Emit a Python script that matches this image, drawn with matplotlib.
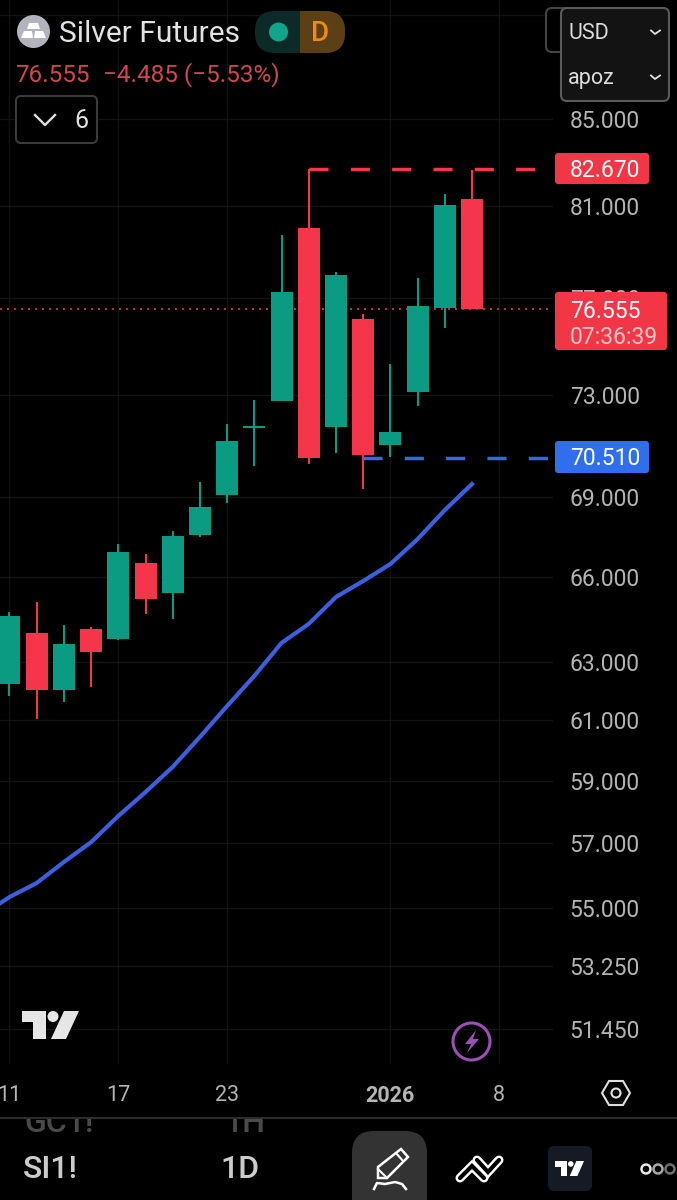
import numpy as np
import matplotlib
matplotlib.use('Agg')
import matplotlib.pyplot as plt
from matplotlib.patches import FancyBboxPatch, Circle, Polygon, Rectangle
from matplotlib.ticker import NullLocator

plt.rcParams['font.family'] = ['Roboto', 'DejaVu Sans']

# daily candles, oldest first
opens = [62.24, 64.01, 62.03, 64.15, 63.80, 66.54, 65.43, 67.57, 69.08, 71.70, 72.75, 80.05, 71.70, 76.12, 71.02, 73.10, 76.58, 81.34]
closes = [64.61, 62.02, 63.61, 63.34, 66.93, 65.22, 67.51, 68.60, 71.16, 71.70, 77.25, 70.48, 77.98, 70.61, 71.53, 76.68, 81.07, 76.555]
highs = [64.75, 65.11, 64.28, 64.23, 67.22, 66.87, 67.71, 69.56, 71.83, 72.79, 79.74, 82.67, 78.11, 76.33, 74.25, 77.86, 81.54, 82.64]
lows = [61.82, 61.05, 61.62, 62.14, 63.75, 64.69, 64.49, 67.50, 68.78, 70.20, 72.75, 70.27, 70.70, 69.30, 70.55, 72.54, 75.75, 76.555]
is_up = [True, False, True, False, True, False, True, True, True, True, True, False, True, False, True, True, True, False]

# moving average, starts one bar before the first visible candle
ma_index = list(range(-1, 18))
ma_values = [54.78, 55.33, 55.76, 56.41, 57.03, 57.86, 58.63, 59.45, 60.44, 61.48, 62.51, 63.66, 64.33, 65.29, 65.87, 66.49, 67.41, 68.50, 69.49]

price_ticks = [85, 81, 77, 73, 69, 66, 63, 61, 59, 57, 55, 53.25, 51.45]
grid_only_ticks = [90]
date_pos = [0, 4, 8, 14, 18]
date_labels = ['11', '17', '23', '2026', '8']

last_price = 76.555
high_price = 82.67
low_price = 70.51

GREEN = '#0a9b82'
RED = '#f4354a'
BLUE = '#3a5fe0'
GRID = '#121212'
LABEL = '#b4b4b4'

W, H = 677, 1200
fig = plt.figure(figsize=(W / 100, H / 100), dpi=100, facecolor='black')

# chart pane, 0-553 px wide and 0-1064 px high
ax = fig.add_axes([0, 1 - 1064 / H, 553 / W, 1064 / H], facecolor='black')
ax.set_yscale('log')
ax.set_xlim(-0.349, 19.98)
ax.set_ylim(50.46, 90.77)
for s in ax.spines.values():
    s.set_visible(False)

ax.yaxis.tick_right()
ax.yaxis.set_minor_locator(NullLocator())
ax.set_yticks(price_ticks + grid_only_ticks)
ax.set_yticklabels(['%.3f' % p for p in price_ticks] + [''])
ax.tick_params(axis='y', length=0, pad=12, labelsize=16.5, labelcolor=LABEL)
for lab in ax.get_yticklabels():
    lab.set_ha('left')
ax.set_xticks(date_pos)
ax.set_xticklabels(date_labels)
ax.tick_params(axis='x', length=0, pad=15, labelsize=15.5, labelcolor=LABEL)
ax.get_xticklabels()[3].set_fontweight('bold')
ax.grid(True, color=GRID, lw=1)
ax.set_axisbelow(True)

ax.axhline(last_price, color=RED, lw=1.4, ls=(0, (1, 2.6)), alpha=0.85, zorder=1)

x = np.arange(len(opens))
colors = [GREEN if u else RED for u in is_up]
ax.vlines(x, lows, highs, colors=colors, lw=1.5, zorder=2)
bottoms = [min(o, c) for o, c in zip(opens, closes)]
tops = [max(o, c) for o, c in zip(opens, closes)]
heights = [t - b for t, b in zip(tops, bottoms)]
ax.bar(x, heights, bottom=bottoms, width=22 / 27.2, color=colors, zorder=3, linewidth=0)
# doji has no body height, just the cross bar
ax.hlines(opens[9], 9 - 11 / 27.2, 9 + 11 / 27.2, colors=GREEN, lw=1.5, zorder=3)

ax.plot(ma_index, ma_values, color=BLUE, lw=3, zorder=4, solid_joinstyle='round')

ax.plot([11, 19.3], [high_price, high_price], color=RED, lw=2.5, ls=(0, (5.5, 6.4)), zorder=4, dash_capstyle='butt')
ax.plot([13, 19.8], [low_price, low_price], color='#3567e8', lw=2.5, ls=(0, (5.5, 6.4)), zorder=5, dash_capstyle='butt')

# overlay in screen pixels for the app chrome
ui = fig.add_axes([0, 0, 1, 1], facecolor='none')
ui.set_xlim(0, W)
ui.set_ylim(H, 0)
ui.axis('off')


def box(x0, y0, x1, y1, fc, ec='none', lw=0, r=5, z=5):
    p = FancyBboxPatch((x0 + r, y0 + r), x1 - x0 - 2 * r, y1 - y0 - 2 * r, boxstyle='round,pad=%g,rounding_size=%g' % (r, r),
                       fc=fc, ec=ec, lw=lw, zorder=z)
    ui.add_patch(p)
    return p


def tv_logo(x0, y0, w, h, color):
    sx, sy = w / 57.0, h / 28.0
    pts = [(0, 0), (24, 0), (24, 28), (11, 28), (11, 11), (0, 11)]
    ui.add_patch(Polygon([(x0 + a * sx, y0 + b * sy) for a, b in pts], fc=color, ec='none', zorder=6))
    pts = [(42, 0), (57, 0), (44, 28), (29, 28)]
    ui.add_patch(Polygon([(x0 + a * sx, y0 + b * sy) for a, b in pts], fc=color, ec='none', zorder=6))
    ui.add_patch(Circle((x0 + 31 * sx, y0 + 5.5 * sy), 5.5 * sx, fc=color, ec='none', zorder=6))


# header
ui.add_patch(Circle((33.5, 31.5), 16.5, fc='#b3b3c0', ec='none', zorder=5))
ui.add_patch(Polygon([(29, 23), (38, 23), (40, 29), (27, 29)], fc='white', ec='none', zorder=6))
ui.add_patch(Polygon([(24, 31), (32, 31), (33, 38), (21, 38)], fc='white', ec='none', zorder=6))
ui.add_patch(Polygon([(35, 31), (43, 31), (46, 38), (34, 38)], fc='white', ec='none', zorder=6))
ui.text(59, 33.5, 'Silver Futures', color='#e2e2e2', fontsize=21.5, va='center', ha='left', zorder=6)
box(255, 11, 345, 53, '#0c2a27', r=20)
clip_r = Rectangle((300, 0), 60, 70, transform=ui.transData)
orange = box(255, 11, 345, 53, '#5c3f14', r=20, z=5.5)
orange.set_clip_path(clip_r)
ui.add_patch(Circle((278.5, 32), 9.5, fc='#12a58c', ec='none', zorder=6))
ui.text(320, 33.5, 'D', color='#f08a12', fontsize=20, fontweight='medium', va='center', ha='center', zorder=6)
ui.text(15, 75, '76.555', color='#d4464f', fontsize=17.5, va='center', ha='left', zorder=6)
ui.text(103, 75, '\u22124.485 (\u22125.53%)', color='#d4464f', fontsize=17.5, va='center', ha='left', zorder=6)

box(16, 96, 97, 143, 'black', ec='#3a3a3a', lw=1.5, r=5)
ui.plot([35, 45, 55], [115, 125, 115], color='#e0e0e0', lw=1.7, zorder=6)
ui.text(81, 120.5, '6', color='#e0e0e0', fontsize=18, va='center', ha='center', zorder=6)

# currency / unit box, with the edge of another box peeking out behind it
box(546, 8, 600, 52, 'black', ec='#444444', lw=1.5, r=6, z=4)
box(561, 8, 669, 101, '#131313', ec='#5a5a5a', lw=1.5, r=6)
ui.text(568, 33.5, 'USD', color='#dcdcdc', fontsize=15.5, va='center', ha='left', zorder=6)
ui.text(568, 78.5, 'apoz', color='#dcdcdc', fontsize=15.5, va='center', ha='left', zorder=6)
for cy in [32, 77]:
    ui.plot([651, 655, 660], [cy - 1.5, cy + 2, cy - 1.5], color='#e0e0e0', lw=1.3, zorder=6)

# price tags
box(555, 153, 649, 184, '#f23645', r=3)
ui.text(570, 170.5, '%.3f' % high_price, color='white', fontsize=16.5, va='center', ha='left', zorder=6)
box(555, 292, 667, 350, '#f23645', r=3)
ui.text(570, 311, '%.3f' % last_price, color='white', fontsize=16.5, va='center', ha='left', zorder=6)
ui.text(570, 337, '07:36:39', color='#fbc9cd', fontsize=16.5, va='center', ha='left', zorder=6)
box(555, 441, 649, 473, '#2f6fed', r=3)
ui.text(570, 458.5, '%.3f' % low_price, color='white', fontsize=16.5, va='center', ha='left', zorder=6)

tv_logo(22, 1011, 57, 28, '#e6e6e6')

# alert button
ui.add_patch(Circle((471.5, 1041.5), 18.5, fc='none', ec='#9a50b4', lw=2.2, zorder=6))
ui.add_patch(Polygon([(476, 1030), (465, 1044), (471, 1044), (467, 1053), (479, 1039), (473, 1039)],
                     fc='#9a50b4', ec='none', zorder=6))

# scale settings hexagon
ui.add_patch(Polygon([(602, 1093), (609, 1081), (623, 1081), (630, 1093), (623, 1105), (609, 1105)],
                     fc='none', ec='#e0e0e0', lw=1.5, zorder=6))
ui.add_patch(Circle((616, 1093), 4.5, fc='none', ec='#e0e0e0', lw=1.5, zorder=6))

# bottom bar
ui.plot([0, W], [1118, 1118], color='#2c2c2c', lw=1.5, zorder=6)
clip_b = Rectangle((0, 1119), W, 81, transform=ui.transData)
for tx, s in [(24, 'GC1!'), (224, '1H')]:
    t = ui.text(tx, 1123, s, color='#4a4a4a', fontsize=23, fontweight='medium', va='center', ha='left', zorder=6)
    t.set_clip_on(True)
    t.set_clip_path(clip_b)
ui.text(23, 1169, 'SI1!', color='#cccccc', fontsize=23, fontweight='medium', va='center', ha='left', zorder=6)
ui.text(220, 1169, '1D', color='#cccccc', fontsize=23, fontweight='medium', va='center', ha='left', zorder=6)

box(352, 1131, 427, 1225, '#333333', r=22)
ui.add_patch(Polygon([(378, 1167), (401, 1149), (408, 1157), (387, 1178), (378, 1178)], fc='none', ec='white', lw=1.8, zorder=6))
ui.plot([396, 403], [1153, 1161], color='white', lw=1.5, zorder=6)
ui.plot([378, 387], [1169, 1178], color='white', lw=1.5, zorder=6)
ui.plot([374, 377, 385, 395, 402, 406], [1189, 1183, 1184, 1182, 1184, 1189], color='white', lw=1.8, zorder=6)

for lw, col, z in [(6.5, 'white', 6), (3, 'black', 6.5)]:
    ui.plot([460, 472, 484], [1178, 1166, 1178], color=col, lw=lw, zorder=z, solid_capstyle='round', solid_joinstyle='miter')
    ui.plot([477, 488, 499], [1160, 1172, 1160], color=col, lw=lw, zorder=z, solid_capstyle='round', solid_joinstyle='miter')

box(548, 1146, 592, 1191, '#161a25', r=6)
tv_logo(555, 1161, 29, 15, 'white')

for cx, col in [(646, '#e8e8e8'), (658, '#a8a8a8'), (670, '#707070')]:
    ui.add_patch(Circle((cx, 1169), 4.5, fc='none', ec=col, lw=1.8, zorder=6))

fig.savefig('out.png', dpi=100, facecolor='black')
